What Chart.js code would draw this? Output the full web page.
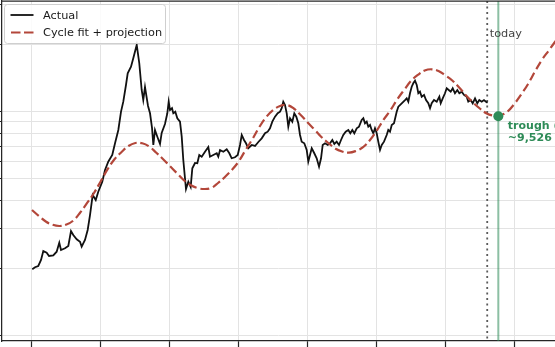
<!DOCTYPE html>
<html>
<head>
<meta charset="utf-8">
<script src="https://cdn.jsdelivr.net/npm/chart.js@4.4.1/dist/chart.umd.min.js"></script>
<style>
html,body{margin:0;padding:0;background:#fff;overflow:hidden;}
canvas{display:block;}
</style>
</head>
<body>
<canvas id="c" width="555" height="347"></canvas>
<script>
// ---- data ----
const actualYears = [2019.004,2019.044,2019.091,2019.131,2019.164,2019.213,2019.247,2019.309,2019.358,2019.396,
2019.421,2019.479,2019.527,2019.566,2019.599,2019.649,2019.697,2019.721,2019.769,2019.808,
2019.842,2019.881,2019.925,2019.962,2020.020,2020.060,2020.107,2020.165,2020.205,2020.253,
2020.292,2020.325,2020.364,2020.389,2020.437,2020.470,2020.520,2020.557,2020.592,2020.615,
2020.640,2020.665,2020.684,2020.713,2020.742,2020.761,2020.785,2020.819,2020.858,2020.882,
2020.930,2020.964,2020.984,2021.003,2021.032,2021.051,2021.080,2021.109,2021.148,2021.173,
2021.196,2021.216,2021.235,2021.269,2021.303,2021.327,2021.366,2021.399,2021.428,2021.463,
2021.511,2021.559,2021.583,2021.631,2021.681,2021.704,2021.729,2021.777,2021.826,2021.864,
2021.898,2021.946,2021.986,2022.019,2022.044,2022.077,2022.106,2022.139,2022.189,2022.237,
2022.285,2022.334,2022.382,2022.421,2022.454,2022.488,2022.527,2022.566,2022.600,2022.624,
2022.647,2022.672,2022.697,2022.720,2022.745,2022.778,2022.807,2022.836,2022.865,2022.890,
2022.914,2022.952,2022.987,2023.010,2023.035,2023.060,2023.097,2023.132,2023.166,2023.195,
2023.219,2023.253,2023.292,2023.325,2023.359,2023.388,2023.422,2023.456,2023.485,2023.518,
2023.553,2023.591,2023.620,2023.649,2023.678,2023.713,2023.746,2023.785,2023.809,2023.833,
2023.858,2023.881,2023.906,2023.930,2023.954,2023.978,2024.003,2024.026,2024.051,2024.076,
2024.109,2024.148,2024.171,2024.196,2024.221,2024.254,2024.293,2024.317,2024.366,2024.414,
2024.438,2024.462,2024.486,2024.511,2024.534,2024.559,2024.584,2024.607,2024.631,2024.656,
2024.690,2024.719,2024.752,2024.777,2024.801,2024.835,2024.874,2024.912,2024.932,2024.961,
2024.994,2025.019,2025.048,2025.077,2025.106,2025.139,2025.173,2025.202,2025.237,2025.270,
2025.309,2025.332,2025.367,2025.396,2025.430,2025.463,2025.492,2025.527,2025.560,2025.589,
2025.612];
const actualValues = [1975,2016,2043,2173,2384,2342,2264,2280,2366,2596,
2408,2451,2510,2927,2810,2688,2622,2491,2669,2958,
3450,4239,4026,4385,4860,5482,5970,6393,7211,8269,
9980,11060,13130,14810,15850,17280,19810,16420,12470,11250,
12860,11490,10580,9817,8441,7087,8269,7717,7161,8017,
8795,9817,11060,10150,10340,9817,9980,9325,9004,7717,
6075,5204,4508,4860,4602,5578,5890,5872,6393,6283,
6615,6944,6283,6393,6508,6283,6732,6615,6781,6508,
6181,6245,6393,7087,7853,7460,7211,6852,7087,7015,
7308,7589,7992,8124,8414,9004,9480,9817,9980,10340,
11060,10690,9817,8556,9325,9004,9817,9480,8858,7853,
7331,7211,6732,5970,6393,6852,6508,6181,5671,6181,
7087,7211,7087,7211,7460,7161,7331,7087,7460,7853,
8124,8269,7992,8269,7992,8414,8556,9163,9325,8858,
9004,8556,8704,8269,7992,8414,7992,7331,6732,7087,
7331,7853,8269,8124,8704,8858,9980,10510,10880,11250,
11450,11060,12060,12900,13360,13730,13130,12060,12260,11640,
11850,11250,10880,10340,10880,11250,11060,11640,10880,11450,
12060,12690,12470,12260,12690,12060,12470,12060,12260,11850,
11640,11060,11250,10880,11450,10880,11250,11060,11250,11060,
10950];

const cycleYears = [2019.0,2019.1,2019.2,2019.3,2019.4,2019.5,2019.6,2019.7,2019.8,2019.9,
2020.0,2020.1,2020.2,2020.3,2020.4,2020.5,2020.6,2020.7,2020.8,2020.9,
2021.0,2021.1,2021.2,2021.3,2021.4,2021.5,2021.6,2021.7,2021.8,2021.9,
2022.0,2022.1,2022.2,2022.3,2022.4,2022.5,2022.6,2022.7,2022.8,2022.9,
2023.0,2023.1,2023.2,2023.3,2023.4,2023.5,2023.6,2023.7,2023.8,2023.9,
2024.0,2024.1,2024.2,2024.3,2024.4,2024.5,2024.6,2024.7,2024.8,2024.9,
2025.0,2025.1,2025.2,2025.3,2025.4,2025.5,2025.6,2025.7,2025.768,2025.8,2025.9,
2026.0,2026.1,2026.2,2026.3,2026.4,2026.5,2026.6];
const cycleValues = [3633,3415,3227,3120,3082,3130,3261,3540,3904,4327,
4895,5539,6138,6595,7015,7234,7211,6982,6561,6138,
5711,5314,4945,4697,4554,4508,4554,4795,5100,5482,
5982,6732,7536,8527,9450,10150,10580,10690,10310,9646,
8932,8311,7693,7234,6837,6629,6548,6664,6908,7423,
8182,9163,10100,11310,12470,13680,14560,15240,15430,15160,
14480,13750,12800,11790,10970,10310,9797,9568,9526,9597,9980,
10800,11910,13270,15090,16980,18720,20640];

const todayYear = 2025.607;
const troughYear = 2025.768;
const troughValue = 9526;
const troughLabel = ['trough (', '~9,526'];
const todayLabel = 'today';
const seriesLabels = ['Actual', 'Cycle fit + projection'];

const xTicks = [2019,2020,2021,2022,2023,2024,2025,2026];
const yTicks = [1000,2000,3000,4000,5000,6000,7000,8000,9000,10000,20000,30000];
const xRange = [2018.5646, 2026.5907];
const yRange = [945, 31130];

// ---- styles ----
const FONT = '"DejaVu Sans", Verdana, sans-serif';
const C_ACTUAL = '#111111';
const C_CYCLE = '#b3473a';
const C_GREEN = '#2e8b57';
const C_GRID = '#e3e3e3';
const C_SPINE = '#262626';
const DASH = [9, 3.8];

const pts = (xs, ys) => xs.map((x, i) => ({x: x, y: ys[i]}));

const annot = {
  id: 'annot',
  beforeDatasetsDraw(chart) {
    const {ctx, chartArea: a, scales: {x}} = chart;
    ctx.save();
    ctx.beginPath();
    ctx.rect(a.left, a.top, a.right - a.left, a.bottom - a.top);
    ctx.clip();
    const gx = x.getPixelForValue(troughYear);
    ctx.strokeStyle = 'rgba(46,139,87,0.55)';
    ctx.lineWidth = 2;
    ctx.beginPath(); ctx.moveTo(gx, a.top); ctx.lineTo(gx, a.bottom); ctx.stroke();
    const tx = x.getPixelForValue(todayYear);
    ctx.setLineDash([2, 3.5]);
    ctx.strokeStyle = '#5a5a5a';
    ctx.lineWidth = 1.8;
    ctx.beginPath(); ctx.moveTo(tx, a.top); ctx.lineTo(tx, a.bottom); ctx.stroke();
    ctx.restore();
  },
  afterDraw(chart) {
    const {ctx, chartArea: a, scales: {x, y}} = chart;
    ctx.save();
    // top spine
    ctx.strokeStyle = C_SPINE; ctx.lineWidth = 1.25;
    ctx.beginPath(); ctx.moveTo(a.left, a.top); ctx.lineTo(a.right, a.top); ctx.stroke();
    // today label
    const tx = x.getPixelForValue(todayYear);
    ctx.font = '11.3px ' + FONT;
    ctx.fillStyle = '#444444';
    ctx.textBaseline = 'alphabetic';
    ctx.fillText(todayLabel, tx + 2.5, 37);
    // trough labels
    const gx = x.getPixelForValue(troughYear);
    const gy = y.getPixelForValue(troughValue);
    ctx.font = 'bold 11px ' + FONT;
    ctx.fillStyle = C_GREEN;
    ctx.fillText(troughLabel[0], gx + 9.5, gy + 12.5);
    ctx.fillText(troughLabel[1], gx + 9.5, gy + 25);
    // legend
    const bx = 4.5, by = 4.5, bw = 161, bh = 39, r = 3;
    ctx.beginPath();
    ctx.moveTo(bx + r, by);
    ctx.lineTo(bx + bw - r, by); ctx.quadraticCurveTo(bx + bw, by, bx + bw, by + r);
    ctx.lineTo(bx + bw, by + bh - r); ctx.quadraticCurveTo(bx + bw, by + bh, bx + bw - r, by + bh);
    ctx.lineTo(bx + r, by + bh); ctx.quadraticCurveTo(bx, by + bh, bx, by + bh - r);
    ctx.lineTo(bx, by + r); ctx.quadraticCurveTo(bx, by, bx + r, by);
    ctx.closePath();
    ctx.fillStyle = 'rgba(255,255,255,0.85)';
    ctx.fill();
    ctx.strokeStyle = '#cfcfcf'; ctx.lineWidth = 1;
    ctx.stroke();
    ctx.lineWidth = 1.8; ctx.strokeStyle = C_ACTUAL;
    ctx.beginPath(); ctx.moveTo(10.5, 15); ctx.lineTo(33.5, 15); ctx.stroke();
    ctx.lineWidth = 2.2; ctx.strokeStyle = C_CYCLE; ctx.setLineDash([9.5, 3.5]);
    ctx.beginPath(); ctx.moveTo(11, 32.5); ctx.lineTo(34, 32.5); ctx.stroke();
    ctx.setLineDash([]);
    ctx.font = '11.3px ' + FONT;
    ctx.fillStyle = '#1a1a1a';
    ctx.fillText(seriesLabels[0], 43, 18.5);
    ctx.fillText(seriesLabels[1], 43, 35.5);
    ctx.restore();
  }
};

new Chart(document.getElementById('c'), {
  type: 'line',
  data: {
    datasets: [
      {
        label: seriesLabels[0],
        data: pts(actualYears, actualValues),
        borderColor: C_ACTUAL, borderWidth: 1.8,
        pointRadius: 0, tension: 0, order: 2
      },
      {
        label: seriesLabels[1],
        data: pts(cycleYears, cycleValues),
        borderColor: C_CYCLE, borderWidth: 2.2, borderDash: DASH,
        pointRadius: 0, tension: 0.4, order: 1
      },
      {
        label: 'trough',
        data: [{x: troughYear, y: troughValue}],
        showLine: false,
        pointRadius: 5, pointBackgroundColor: C_GREEN, pointBorderColor: C_GREEN,
        pointBorderWidth: 0, order: 0
      }
    ]
  },
  options: {
    responsive: false,
    devicePixelRatio: 1,
    animation: false,
    layout: {autoPadding: false, padding: {top: 1, left: 0, right: 0, bottom: 0}},
    plugins: {legend: {display: false}, tooltip: {enabled: false}},
    scales: {
      x: {
        type: 'linear', position: 'bottom', bounds: 'data',
        min: xRange[0], max: xRange[1],
        afterBuildTicks: s => { s.ticks = xTicks.map(v => ({value: v})); },
        afterFit: s => { s.height = 6; },
        ticks: {display: false},
        grid: {color: C_GRID, lineWidth: 1, drawTicks: true, tickLength: 6, tickColor: C_SPINE, tickWidth: 1.2},
        border: {display: true, color: C_SPINE, width: 1.25}
      },
      y: {
        type: 'logarithmic', position: 'left', bounds: 'data',
        min: yRange[0], max: yRange[1],
        afterBuildTicks: s => { s.ticks = yTicks.map(v => ({value: v})); },
        afterFit: s => { s.width = 2; },
        ticks: {display: false},
        grid: {color: C_GRID, lineWidth: 1, drawTicks: true, tickLength: 4, tickColor: C_SPINE, tickWidth: 1.2},
        border: {display: true, color: C_SPINE, width: 1.25}
      }
    }
  },
  plugins: [annot]
});
</script>
</body>
</html>
